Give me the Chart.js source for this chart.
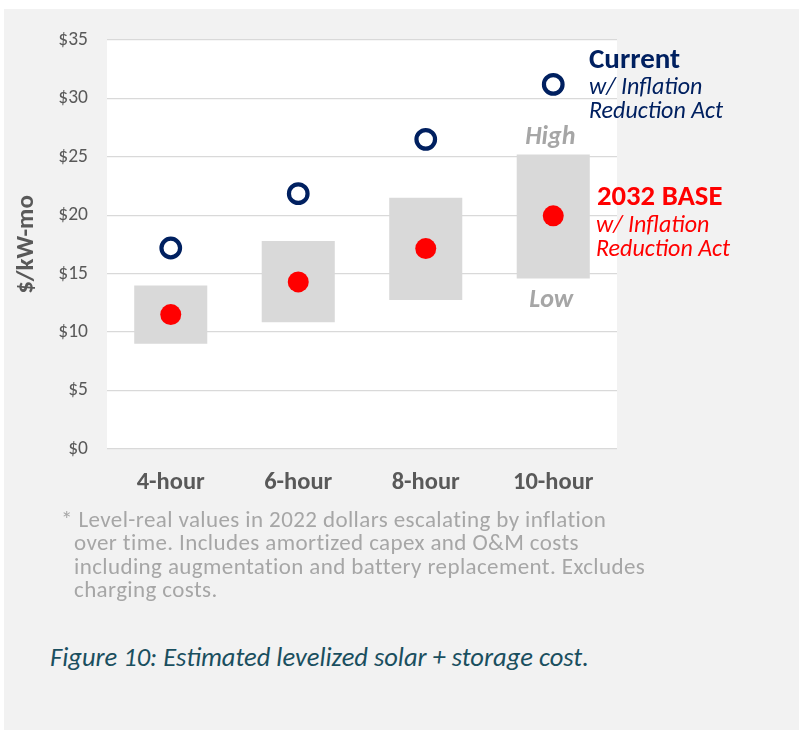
<!DOCTYPE html>
<html>
<head>
<meta charset="utf-8">
<script src="https://cdn.jsdelivr.net/npm/chart.js@4.4.1/dist/chart.umd.min.js"></script>
<style>
  body { margin: 0; background: #fff; font-family: Carlito, Lato, sans-serif; }
  #panel { position: absolute; left: 4px; top: 9px; width: 795px; height: 721px; background: #f2f2f2; }
  #cv { position: absolute; left: 0; top: 0; }
  #note { position: absolute; left: 74px; top: 508px; text-indent: -13px; font-size: 23px; letter-spacing: 0.4px; line-height: 23.4px; color: #a6a6a6; white-space: nowrap; }
  #caption { position: absolute; left: 50px; top: 641px; font-size: 26.5px; font-style: italic; color: #1a4f5f; white-space: nowrap; }
</style>
</head>
<body>
<div id="panel"></div>
<canvas id="cv" width="799" height="510"></canvas>
<div id="note">* Level-real values in 2022 dollars escalating by inflation<br>over time. Includes amortized capex and O&amp;M costs<br>including augmentation and battery replacement. Excludes<br>charging costs.</div>
<div id="caption">Figure 10: Estimated levelized solar + storage cost.</div>
<script>
var categories = ['4-hour', '6-hour', '8-hour', '10-hour'];
var rangeLow = [9.0, 10.85, 12.75, 14.6];
var rangeHigh = [14.0, 17.8, 21.5, 25.2];
var base2032 = [11.5, 14.3, 17.15, 19.95];
var current = [17.2, 21.85, 26.5, 31.2];

var FONT = 'Carlito, Lato, sans-serif';

var ranges = [];
for (var i = 0; i < categories.length; i++) {
  ranges.push([rangeLow[i], rangeHigh[i]]);
}

// white plot area + text notes next to the last column
var extras = {
  id: 'extras',
  beforeDraw: function(chart) {
    var a = chart.chartArea, ctx = chart.ctx;
    ctx.save();
    ctx.fillStyle = '#ffffff';
    ctx.fillRect(a.left, a.top, a.right - a.left, a.bottom - a.top);
    ctx.restore();
  },
  afterDraw: function(chart) {
    var ctx = chart.ctx;
    var x = chart.scales.x, y = chart.scales.y;
    var last = categories.length - 1;
    var cx = x.getPixelForValue(last);
    ctx.save();
    ctx.textBaseline = 'middle';

    ctx.textAlign = 'center';
    ctx.fillStyle = '#a6a6a6';
    ctx.font = 'italic bold 26px ' + FONT;
    ctx.fillText('High', cx - 3, y.getPixelForValue(rangeHigh[last]) - 17);
    ctx.fillText('Low', cx - 2, y.getPixelForValue(rangeLow[last]) + 22);

    ctx.textAlign = 'left';
    ctx.fillStyle = '#002060';
    ctx.font = 'bold 29px ' + FONT;
    ctx.fillText('Current', 589, 61);
    ctx.font = 'italic 24px ' + FONT;
    ctx.fillText('w/ Inflation', 589, 88);
    ctx.fillText('Reduction Act', 589, 112);

    ctx.fillStyle = '#ff0000';
    ctx.font = 'bold 28.7px ' + FONT;
    ctx.fillText('2032 BASE', 597, 198);
    ctx.font = 'italic 24px ' + FONT;
    ctx.fillText('w/ Inflation', 596, 226);
    ctx.fillText('Reduction Act', 596, 250);
    ctx.restore();
  }
};

new Chart(document.getElementById('cv'), {
  type: 'bar',
  data: {
    labels: categories,
    datasets: [
      {
        type: 'line',
        label: 'Current',
        data: current,
        showLine: false,
        pointRadius: 9.3,
        pointBorderWidth: 4.2,
        pointBorderColor: '#002060',
        pointBackgroundColor: '#ffffff',
        order: 1
      },
      {
        type: 'line',
        label: '2032 BASE',
        data: base2032,
        showLine: false,
        pointRadius: 10.5,
        pointBorderWidth: 0,
        pointBackgroundColor: '#ff0000',
        order: 2
      },
      {
        label: 'Range',
        data: ranges,
        backgroundColor: '#d9d9d9',
        barPercentage: 0.573,
        categoryPercentage: 1,
        order: 3
      }
    ]
  },
  options: {
    responsive: false,
    animation: false,
    layout: { padding: { top: 40, right: 182, left: 0, bottom: 0 } },
    plugins: { legend: { display: false }, tooltip: { enabled: false } },
    scales: {
      x: {
        grid: { display: false },
        border: { display: false },
        ticks: { color: '#595959', padding: 11, font: { family: FONT, size: 24.5, weight: 'bold' } },
        afterFit: function(s) { s.height = 61; }
      },
      y: {
        min: 0,
        max: 35,
        ticks: {
          stepSize: 5,
          padding: 19,
          color: '#595959',
          font: { family: FONT, size: 19.5 },
          callback: function(v) { return '$' + v; }
        },
        grid: { color: '#d9d9d9', lineWidth: 1.3, drawTicks: false },
        border: { display: false },
        title: {
          display: true,
          text: '$/kW-mo',
          color: '#595959',
          padding: { top: 12, bottom: 0 },
          font: { family: FONT, size: 25, weight: 'bold' }
        },
        afterFit: function(s) { s.width = 107; }
      }
    }
  },
  plugins: [extras]
});
</script>
</body>
</html>
